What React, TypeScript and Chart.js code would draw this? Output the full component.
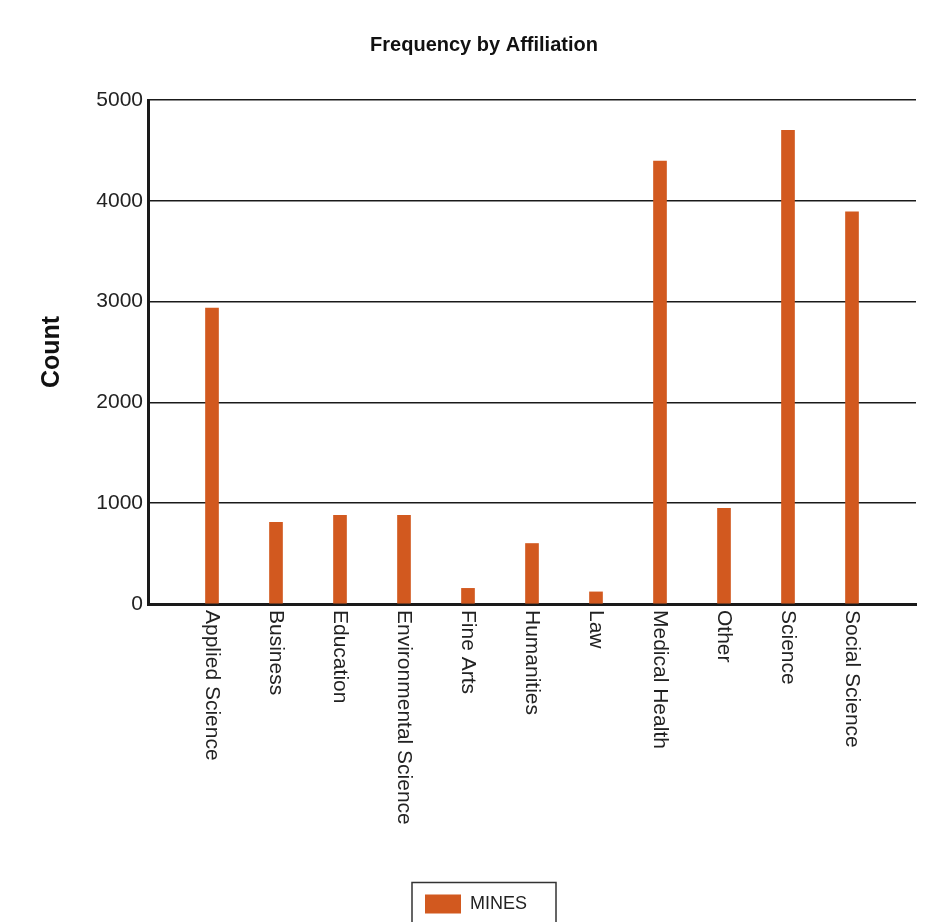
import React, { useEffect, useRef } from 'react';
import { Chart, registerables } from 'chart.js';

Chart.register(...registerables);

const categories = [
  'Applied Science',
  'Business',
  'Education',
  'Environmental Science',
  'Fine Arts',
  'Humanities',
  'Law',
  'Medical Health',
  'Other',
  'Science',
  'Social Science',
];
const minesCounts = [2935, 810, 880, 880, 155, 600, 120, 4395, 950, 4700, 3890];
const yTickValues = [0, 1000, 2000, 3000, 4000, 5000];
const seriesName = 'MINES';
const chartTitle = 'Frequency by Affiliation';
const yAxisTitle = 'Count';

const FONT = 'Arial, "Liberation Sans", sans-serif';
const BAR_COLOR = '#D2591F';
const INK = '#1a1a1a';
const CENTER_X = 484;

// Draws the heading, the clockwise-rotated category names and the boxed legend.
const decorations = {
  id: 'decorations',
  afterDraw(chart: any) {
    const { ctx } = chart;
    const xScale = chart.scales.x;
    ctx.save();

    ctx.font = `bold 20px ${FONT}`;
    ctx.fillStyle = '#111';
    ctx.textAlign = 'center';
    ctx.textBaseline = 'middle';
    ctx.fillText(chartTitle, CENTER_X, 45);

    ctx.font = `21px ${FONT}`;
    ctx.fillStyle = '#222';
    ctx.textAlign = 'left';
    ctx.textBaseline = 'middle';
    categories.forEach((name, i) => {
      const px = xScale.getPixelForValue(i + 1);
      ctx.save();
      ctx.translate(px, xScale.top + 6);
      ctx.rotate(Math.PI / 2);
      ctx.fillText(name, 0, 0);
      ctx.restore();
    });

    const ds = chart.data.datasets[0];
    const boxW = 144;
    const boxL = CENTER_X - boxW / 2;
    const boxT = 882.5;
    ctx.strokeStyle = '#333';
    ctx.lineWidth = 1.5;
    ctx.strokeRect(boxL, boxT, boxW, 60);
    ctx.fillStyle = ds.backgroundColor;
    ctx.fillRect(boxL + 13, boxT + 12, 36, 19);
    ctx.font = `18px ${FONT}`;
    ctx.fillStyle = '#222';
    ctx.textAlign = 'left';
    ctx.textBaseline = 'middle';
    ctx.fillText(ds.label, boxL + 58, boxT + 22);

    ctx.restore();
  },
};

export default function App() {
  const canvasRef = useRef<HTMLCanvasElement | null>(null);

  useEffect(() => {
    document.body.style.margin = '0';
    const canvas = canvasRef.current;
    if (!canvas) return;

    const chart = new Chart(canvas, {
      type: 'bar',
      data: {
        datasets: [
          {
            label: seriesName,
            data: minesCounts.map((v, i) => ({ x: i + 1, y: v })),
            backgroundColor: BAR_COLOR,
            borderWidth: 0,
            barThickness: 13,
          },
        ],
      },
      options: {
        responsive: false,
        animation: false,
        devicePixelRatio: 1,
        layout: { padding: { top: 100, right: 18, bottom: 0, left: 0 } },
        plugins: {
          legend: { display: false },
          title: { display: false },
          tooltip: { enabled: false },
        },
        scales: {
          x: {
            type: 'linear',
            offset: false,
            min: 0,
            max: categories.length + 1,
            grid: { display: false, drawTicks: false, offset: false },
            border: { display: true, color: INK, width: 3 },
            ticks: { display: false },
            afterFit: (scale: any) => {
              scale.height = 318;
            },
          },
          y: {
            min: 0,
            max: 5000,
            afterBuildTicks: (scale: any) => {
              scale.ticks = yTickValues.map((v) => ({ value: v }));
            },
            grid: { color: INK, lineWidth: 1.5, drawTicks: false },
            border: { display: true, color: INK, width: 3 },
            ticks: {
              padding: 5,
              color: '#222',
              font: { family: FONT, size: 21 },
              callback: (v: any) => String(v),
            },
            title: {
              display: true,
              text: yAxisTitle,
              color: '#111',
              font: { family: FONT, size: 25, weight: 'bold' },
              padding: { top: 37, bottom: 0 },
            },
            afterFit: (scale: any) => {
              scale.width = 148;
            },
          },
        },
      },
      plugins: [decorations],
    });

    return () => chart.destroy();
  }, []);

  return (
    <div style={{ width: 934, height: 922, background: '#fff' }}>
      <canvas ref={canvasRef} width={934} height={922} style={{ display: 'block' }} />
    </div>
  );
}
